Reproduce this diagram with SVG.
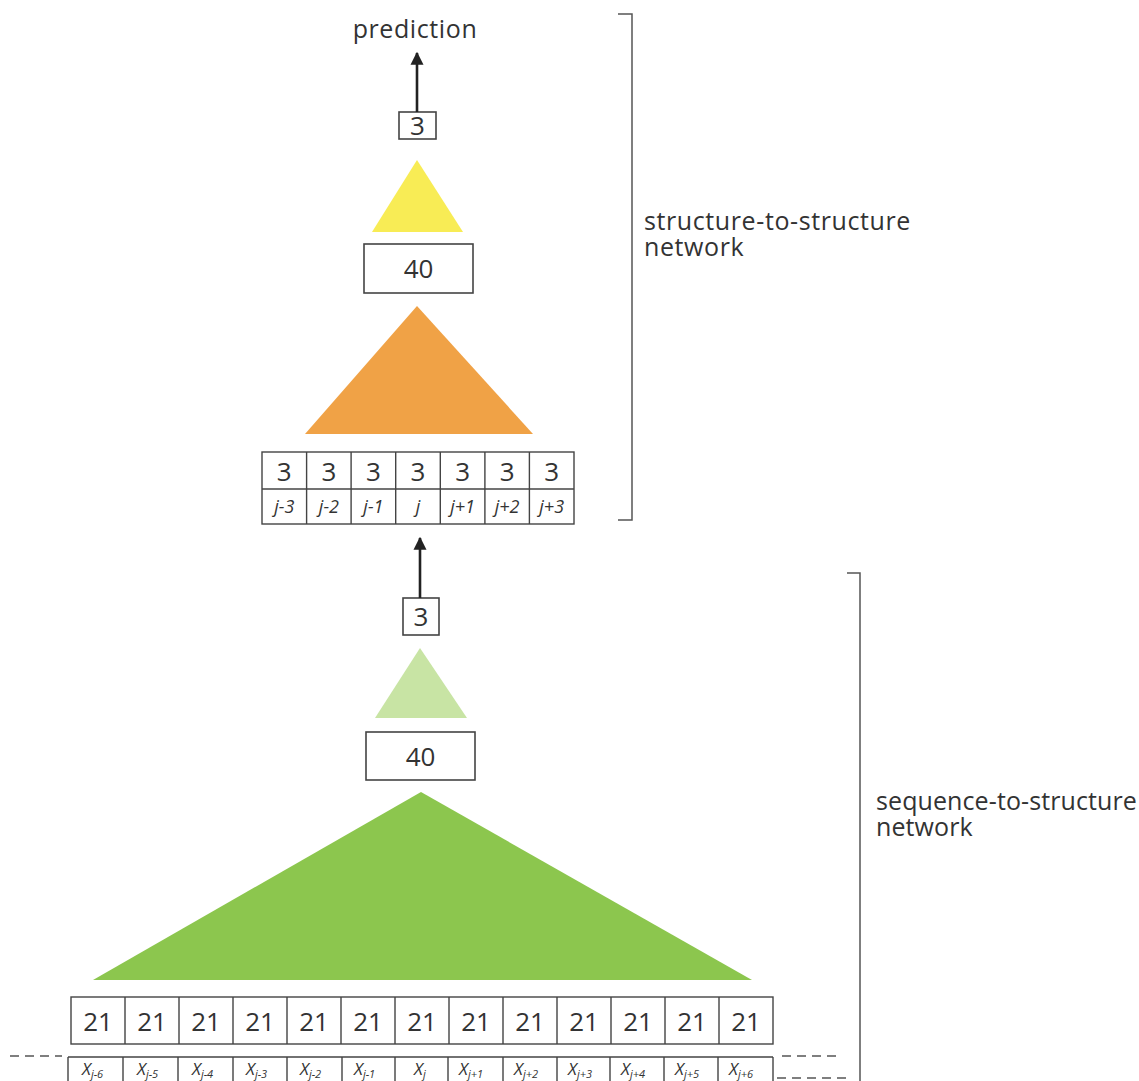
<svg xmlns="http://www.w3.org/2000/svg" width="1139" height="1081" viewBox="0 0 1139 1081">
  <style>
    text { font-family: "Open Sans", "Noto Sans", sans-serif; fill: #333; }
    .lbl { font-size: 25px; letter-spacing: 0.6px; }
    .lbl2 { font-size: 25px; letter-spacing: 0.1px; }
    .num { font-size: 26px; text-anchor: middle; }
    .idx { font-size: 18px; font-style: italic; text-anchor: middle; }
    .xv { font-size: 17px; font-style: italic; }
    .sub { font-size: 11px; font-style: italic; }
    .box { fill: #fff; stroke: #444; stroke-width: 1.6; }
    .cell { fill: none; stroke: #444; stroke-width: 1.4; }
    .brk { fill: none; stroke: #555; stroke-width: 1.5; }
    .dash { fill: none; stroke: #555; stroke-width: 1.4; stroke-dasharray: 9 6; }
    .conn { stroke: #222; stroke-width: 2.6; fill: none; }
  </style>
  <defs>
    <marker id="head" viewBox="0 0 10 10" refX="9" refY="5" markerWidth="5" markerHeight="5.5" orient="auto" markerUnits="strokeWidth">
      <path d="M0,0 L10,5 L0,10 z" fill="#222"/>
    </marker>
  </defs>
  <rect width="1139" height="1081" fill="#fff"/>

  <!-- output label -->
  <g id="prediction">
    <text class="lbl" x="415" y="38" text-anchor="middle">prediction</text>
  </g>

  <!-- structure-to-structure network -->
  <g id="s2s-out">
    <rect class="box" x="399" y="112" width="37" height="27"/>
    <text class="num" x="417.5" y="135">3</text>
  </g>
  <g id="s2s-hidden-weights">
    <polygon points="417,160 463,232 372,232" fill="#f8ec55"/>
  </g>
  <g id="s2s-hidden">
    <rect class="box" x="364" y="244" width="109" height="49"/>
    <text class="num" x="418.5" y="278">40</text>
  </g>
  <g id="s2s-input-weights">
    <polygon points="417,306 533,434 305,434" fill="#f0a246"/>
  </g>
  <g id="s2s-input">
    <rect class="cell" x="262" y="452" width="312" height="72" fill="#fff"/>
    <line class="cell" x1="262" y1="489" x2="574" y2="489"/>
    <path class="cell" d="M306.6,452V524M351.1,452V524M395.7,452V524M440.3,452V524M484.9,452V524M529.4,452V524"/>
    <text class="num" x="284.3" y="481">3</text>
    <text class="num" x="328.9" y="481">3</text>
    <text class="num" x="373.4" y="481">3</text>
    <text class="num" x="418" y="481">3</text>
    <text class="num" x="462.6" y="481">3</text>
    <text class="num" x="507.1" y="481">3</text>
    <text class="num" x="551.7" y="481">3</text>
    <text class="idx" x="284.3" y="513">j-3</text>
    <text class="idx" x="328.9" y="513">j-2</text>
    <text class="idx" x="373.4" y="513">j-1</text>
    <text class="idx" x="418" y="513">j</text>
    <text class="idx" x="462.6" y="513">j+1</text>
    <text class="idx" x="507.1" y="513">j+2</text>
    <text class="idx" x="551.7" y="513">j+3</text>
  </g>
  <g id="s2s-bracket">
    <path class="brk" d="M618,14H632V520H618"/>
    <text class="lbl" x="644" y="230">structure-to-structure<tspan x="644" dy="26">network</tspan></text>
  </g>

  <!-- sequence-to-structure network -->
  <g id="q2s-out">
    <rect class="box" x="403" y="598" width="36" height="37"/>
    <text class="num" x="421" y="626">3</text>
  </g>
  <g id="q2s-hidden-weights">
    <polygon points="420,648 467,718 375,718" fill="#c8e4a4"/>
  </g>
  <g id="q2s-hidden">
    <rect class="box" x="366" y="732" width="109" height="48"/>
    <text class="num" x="420.5" y="766">40</text>
  </g>
  <g id="q2s-input-weights">
    <polygon points="421,792 752,980 93,980" fill="#8cc64e"/>
  </g>
  <g id="q2s-input">
    <rect class="cell" x="71" y="997" width="702" height="47" fill="#fff"/>
    <path class="cell" d="M125,997V1044M179,997V1044M233,997V1044M287,997V1044M341,997V1044M395,997V1044M449,997V1044M503,997V1044M557,997V1044M611,997V1044M665,997V1044M719,997V1044"/>
    <text class="num" x="98" y="1031">21</text>
    <text class="num" x="152" y="1031">21</text>
    <text class="num" x="206" y="1031">21</text>
    <text class="num" x="260" y="1031">21</text>
    <text class="num" x="314" y="1031">21</text>
    <text class="num" x="368" y="1031">21</text>
    <text class="num" x="422" y="1031">21</text>
    <text class="num" x="476" y="1031">21</text>
    <text class="num" x="530" y="1031">21</text>
    <text class="num" x="584" y="1031">21</text>
    <text class="num" x="638" y="1031">21</text>
    <text class="num" x="692" y="1031">21</text>
    <text class="num" x="746" y="1031">21</text>
  </g>
  <g id="sequence-window">
    <path class="cell" d="M68,1057H773M68,1057V1081M123,1057V1081M178,1057V1081M233,1057V1081M287,1057V1081M342,1057V1081M395,1057V1081M448,1057V1081M503,1057V1081M557,1057V1081M610,1057V1081M664,1057V1081M718,1057V1081M773,1057V1081"/>
    <path class="dash" d="M10,1056H62M782,1056H840M777,1078H848"/>
    <text class="xv" x="82" y="1075">X<tspan class="sub" dy="3">j-6</tspan></text>
    <text class="xv" x="137" y="1075">X<tspan class="sub" dy="3">j-5</tspan></text>
    <text class="xv" x="192" y="1075">X<tspan class="sub" dy="3">j-4</tspan></text>
    <text class="xv" x="246" y="1075">X<tspan class="sub" dy="3">j-3</tspan></text>
    <text class="xv" x="300" y="1075">X<tspan class="sub" dy="3">j-2</tspan></text>
    <text class="xv" x="354" y="1075">X<tspan class="sub" dy="3">j-1</tspan></text>
    <text class="xv" x="414" y="1075">X<tspan class="sub" dy="3">j</tspan></text>
    <text class="xv" x="459" y="1075">X<tspan class="sub" dy="3">j+1</tspan></text>
    <text class="xv" x="514" y="1075">X<tspan class="sub" dy="3">j+2</tspan></text>
    <text class="xv" x="568" y="1075">X<tspan class="sub" dy="3">j+3</tspan></text>
    <text class="xv" x="621" y="1075">X<tspan class="sub" dy="3">j+4</tspan></text>
    <text class="xv" x="675" y="1075">X<tspan class="sub" dy="3">j+5</tspan></text>
    <text class="xv" x="729" y="1075">X<tspan class="sub" dy="3">j+6</tspan></text>
  </g>
  <g id="q2s-bracket">
    <path class="brk" d="M847,573H860V1081"/>
    <text class="lbl2" x="876" y="810">sequence-to-structure<tspan x="876" dy="26">network</tspan></text>
  </g>

  <!-- connectors -->
  <g id="connectors">
    <line class="conn" x1="417" y1="112" x2="417" y2="53" marker-end="url(#head)"/>
    <line class="conn" x1="420" y1="598" x2="420" y2="538" marker-end="url(#head)"/>
  </g>
</svg>
